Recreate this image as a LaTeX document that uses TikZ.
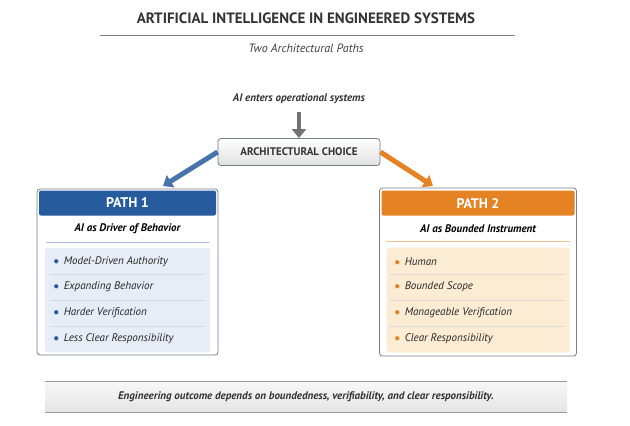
\documentclass[tikz,border=0pt]{standalone}
\usepackage{fontspec}
\setmainfont{PT Sans}
\usetikzlibrary{arrows.meta,positioning,calc}
\definecolor{pathblue}{RGB}{38,92,158}
\definecolor{listblue}{RGB}{230,237,247}
\definecolor{pathorange}{RGB}{228,130,36}
\definecolor{listorange}{RGB}{252,236,212}
\definecolor{frame}{RGB}{120,125,135}
\begin{document}
\begin{tikzpicture}[x=1pt, y=-1pt]
  \tikzstyle{panel}=[rectangle, draw=frame, fill=white, rounded corners=3pt, line width=0.8pt]
  \tikzstyle{header}=[rectangle, rounded corners=2pt, text=white, font=\bfseries\fontsize{14}{16}\selectfont, minimum height=25pt]
  \tikzstyle{item}=[anchor=west, font=\itshape\fontsize{11}{13}\selectfont, text=black!85]
  \tikzstyle{bigarrow}=[line width=5pt, -{Triangle[length=9pt, width=14pt]}]
  \useasboundingbox (0,0) rectangle (630,426);

  % Titel
  \node[font=\bfseries\fontsize{15}{18}\selectfont, text=black!80] (title) at (306,18) {ARTIFICIAL INTELLIGENCE IN ENGINEERED SYSTEMS};
  \draw[black!50, line width=0.8pt] (100,35) -- (515,35);
  \node[font=\itshape\fontsize{12}{14}\selectfont, text=black!75] (sub) at (306,48) {Two Architectural Paths};

  % Entscheidung
  \node[font=\itshape\bfseries\fontsize{11}{13}\selectfont, text=black!80] (enter) at (299,99) {AI enters operational systems};
  \node[rectangle, draw=frame, rounded corners=3pt, top color=white, bottom color=black!12, line width=0.8pt,
        minimum width=162pt, minimum height=27pt, font=\bfseries\fontsize{11}{13}\selectfont, text=black!80] (choice) at (299,152) {ARCHITECTURAL CHOICE};
  \draw[bigarrow, color=black!55, line width=4pt] (enter.south) ++(0,4) coordinate (e1) -- (choice.north);
  \draw[bigarrow, color=pathblue!85] (choice.west) -- (163,186);
  \draw[bigarrow, color=pathorange] (choice.east) -- (433,186);

  % Pfad 1
  \node[panel, minimum width=181pt, minimum height=166pt] (p1) at (127.5,272) {};
  \node[header, fill=pathblue, minimum width=177pt] (h1) at (127.5,203) {PATH 1};
  \node[font=\itshape\bfseries\fontsize{11}{13}\selectfont] (s1) at (127.5,229) {AI as Driver of Behavior};
  \draw[pathblue!40] (46,242) -- (209,242);
  \node[rectangle, fill=listblue, rounded corners=2pt, minimum width=165pt, minimum height=104pt] (l1) at (127.5,300) {};
  \foreach \y/\t in {262/Model-Driven Authority, 287/Expanding Behavior, 313/Harder Verification, 339/Less Clear Responsibility}
    \node[item] at (50,\y) {\textcolor{pathblue}{$\bullet$}\, \t};
  \foreach \y in {274.5,300,326}
    \draw[black!15] (50,\y) -- (205,\y);

  % Pfad 2
  \node[panel, minimum width=197pt, minimum height=168pt] (p2) at (478,272) {};
  \node[header, fill=pathorange, minimum width=193pt] (h2) at (478,203) {PATH 2};
  \node[font=\itshape\bfseries\fontsize{11}{13}\selectfont] (s2) at (478,229) {AI as Bounded Instrument};
  \draw[pathorange!50] (386,241) -- (570,241);
  \node[rectangle, fill=listorange, rounded corners=2pt, minimum width=183pt, minimum height=105pt] (l2) at (478,300) {};
  \foreach \y/\t in {262/Human/System Authority, 287/Bounded Scope, 313/Manageable Verification, 339/Clear Responsibility}
    \node[item] at (391,\y) {\textcolor{pathorange}{$\bullet$}\, \t};
  \foreach \y in {274.5,300,326}
    \draw[black!15] (390,\y) -- (565,\y);

  % Fazit
  \node[rectangle, top color=black!3, bottom color=black!10, minimum width=522pt, minimum height=30pt] (out) at (306,397) {};
  \draw[black!40, line width=0.8pt] (out.north west) -- (out.north east);
  \draw[black!40, line width=0.8pt] (out.south west) -- (out.south east);
  \node[font=\itshape\bfseries\fontsize{11}{13}\selectfont, text=black!80] at (out) {Engineering outcome depends on boundedness, verifiability, and clear responsibility.};
\end{tikzpicture}
\end{document}
